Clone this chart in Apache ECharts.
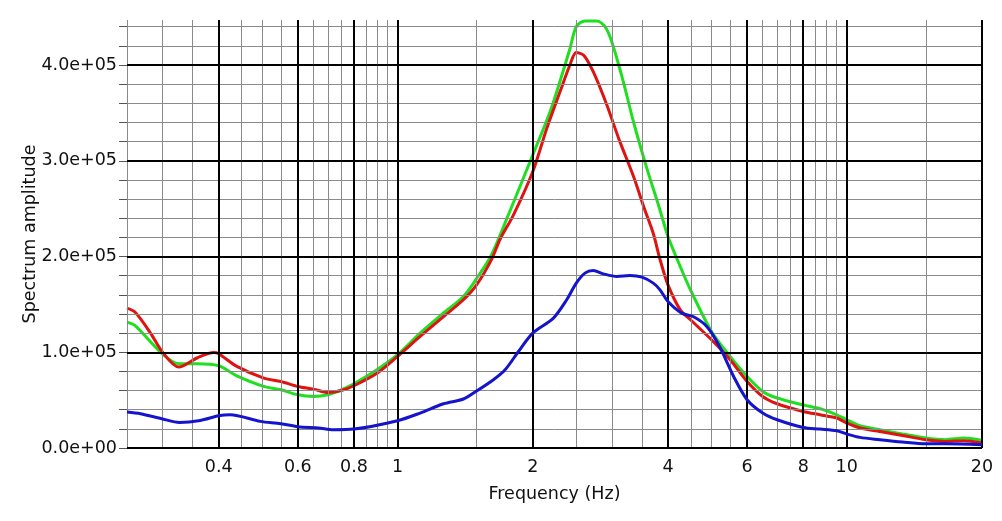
<!DOCTYPE html>
<html>
<head>
<meta charset="utf-8">
<script src="https://cdn.jsdelivr.net/npm/echarts@6/dist/echarts.min.js"></script>
<style>
html,body{margin:0;padding:0;background:#fff;}
#chart{width:1002px;height:521px;}
</style>
</head>
<body>
<div id="chart"></div>
<script>
// ---- data (frequency in Hz, amplitude) ----
const freqGreen = [0.25,0.261,0.30,0.326,0.358,0.40,0.439,0.504,0.55,0.60,0.65,0.70,0.75,0.80,0.90,1.0,1.123,1.266,1.402,1.5,1.62,1.765,2.0,2.185,2.3,2.42,2.5,2.614,2.775,2.897,3.0,3.18,3.35,3.59,3.82,4.0,4.26,4.49,5.0,5.5,6.0,6.5,7.0,8.0,8.73,9.5,10.0,10.7,11.85,13.3,15.0,16.6,18.2,20];
const ampGreen = [131500,127600,98000,88000,88000,85900,75400,64300,60800,55600,53800,55600,60800,67100,81700,97400,120000,141000,158200,177000,202000,243400,306000,351000,383000,417000,440000,446000,446000,440000,424000,383000,341000,292000,252000,221000,189500,165000,121700,95600,74700,59100,52200,45000,41000,34700,29500,23300,19100,14600,10400,8700,10400,7900];

const freqRed = [0.25,0.261,0.282,0.30,0.326,0.358,0.39,0.40,0.439,0.504,0.55,0.60,0.65,0.70,0.75,0.80,0.90,1.0,1.123,1.266,1.402,1.5,1.62,1.692,1.81,2.0,2.15,2.3,2.42,2.5,2.6,2.727,2.92,3.12,3.35,3.55,3.71,3.84,4.0,4.26,4.49,5.0,5.5,6.0,6.5,7.0,8.0,8.72,9.5,10.0,10.7,11.85,13.3,15.0,16.6,18.2,20];
const ampRed = [146000,141500,120000,100000,84500,94000,99800,98500,85200,73000,69500,64300,61500,58000,60000,65000,78000,95600,116500,137300,154800,170400,197000,218000,243000,288600,334000,372000,400000,413000,410000,393000,359000,321000,284000,249000,224000,197000,170400,144300,133900,113000,92100,69500,53800,46200,38200,34700,31300,26100,20900,17300,13100,8700,6900,7600,5200];

const freqBlue = [0.25,0.268,0.30,0.327,0.364,0.40,0.424,0.495,0.55,0.60,0.667,0.72,0.80,1.0,1.123,1.266,1.402,1.5,1.635,1.736,1.859,2.0,2.224,2.38,2.5,2.614,2.727,2.871,3.08,3.29,3.5,3.71,3.84,4.0,4.29,4.55,4.88,5.21,5.6,6.0,6.5,7.0,8.0,8.72,9.5,10.0,10.7,11.85,13.3,15.0,16.6,20];
const ampBlue = [37600,35800,30300,26700,28800,33700,34700,27800,25400,22200,20900,19100,19800,28500,36500,46200,51200,59500,71300,81700,100800,120000,135700,154800,172200,182600,185300,181900,179100,180100,178400,172200,165200,153000,140900,137300,126900,106000,74700,50400,36500,29500,21500,19800,18000,14600,11100,8700,6300,4500,4500,3400];

// ---- axes / ticks ----
const xTickValues = [0.4,0.6,0.8,1,2,4,6,8,10,20];
const xTickLabels = ['0.4','0.6','0.8','1','2','4','6','8','10','20'];
const xMinorValues = [0.25,0.3,0.35,0.45,0.5,0.55,0.65,0.7,0.75,0.85,0.9,0.95,1.5,2.5,3,3.5,4.5,5,5.5,6.5,7,7.5,8.5,9,9.5,15];
const yTickValues = [0,100000,200000,300000,400000];
const yTickLabels = ['0.0e+00','1.0e+05','2.0e+05','3.0e+05','4.0e+05'];
const yMinorValues = [20000,40000,60000,80000,120000,140000,160000,180000,220000,240000,260000,280000,320000,340000,360000,380000,420000,440000];

const FONT = 'DejaVu Sans';
const FS = 17.5;
const zip = (a, b) => a.map((v, i) => [v, b[i]]);

const minorData = xMinorValues.map(v => ({xAxis: v}))
  .concat(yMinorValues.map(v => ({yAxis: v})));
const majorData = xTickValues.map((v, i) => ({
    xAxis: v,
    label: {show: true, position: 'start', formatter: xTickLabels[i]}
  }))
  .concat(yTickValues.map(v => ({yAxis: v, label: {show: false}})));

const chart = echarts.init(document.getElementById('chart'), null, {renderer: 'canvas'});
chart.setOption({
  animation: false,
  backgroundColor: '#fff',
  grid: {left: 127, right: 20, top: 20, bottom: 73, containLabel: false},
  xAxis: {
    type: 'log', logBase: 10, min: 0.25, max: 20,
    name: 'Frequency (Hz)', nameLocation: 'middle', nameGap: 37,
    nameMoveOverlap: false,
    nameTextStyle: {fontFamily: FONT, fontSize: FS, color: '#111'},
    axisLine: {show: false}, axisTick: {show: false},
    axisLabel: {show: false}, splitLine: {show: false}
  },
  yAxis: {
    type: 'value', min: 0, max: 447000, interval: 20000,
    name: 'Spectrum amplitude', nameLocation: 'middle', nameGap: 88,
    nameMoveOverlap: false,
    nameTextStyle: {fontFamily: FONT, fontSize: FS, color: '#111'},
    axisLine: {show: false},
    axisTick: {show: true, length: 8, lineStyle: {color: '#555', width: 1},
               customValues: yTickValues.concat(yMinorValues)},
    axisLabel: {
      show: true, margin: 10, customValues: yTickValues,
      fontFamily: FONT, fontSize: FS, color: '#111',
      formatter: v => {
        const i = yTickValues.indexOf(v);
        return i >= 0 ? yTickLabels[i] : '';
      }
    },
    splitLine: {show: false}
  },
  series: [
    {
      name: 'gridMinor', type: 'line', data: [], z: 1, silent: true,
      markLine: {
        silent: true, symbol: ['none', 'none'], animation: false,
        lineStyle: {color: '#8a8a8a', width: 1, type: 'solid'},
        label: {show: false},
        emphasis: {disabled: true},
        data: minorData
      }
    },
    {
      name: 'gridMajor', type: 'line', data: [], z: 2, silent: true,
      markLine: {
        silent: true, symbol: ['none', 'none'], animation: false,
        lineStyle: {color: '#000', width: 2, type: 'solid'},
        label: {fontFamily: FONT, fontSize: FS, color: '#111', distance: 10},
        emphasis: {disabled: true},
        data: majorData
      }
    },
    {
      name: 'green', type: 'line', data: zip(freqGreen, ampGreen), z: 3,
      showSymbol: false, smooth: 0.3,
      lineStyle: {color: '#1fe01f', width: 3}, itemStyle: {color: '#1fe01f'}
    },
    {
      name: 'red', type: 'line', data: zip(freqRed, ampRed), z: 4,
      showSymbol: false, smooth: 0.3,
      lineStyle: {color: '#e01212', width: 3}, itemStyle: {color: '#e01212'}
    },
    {
      name: 'blue', type: 'line', data: zip(freqBlue, ampBlue), z: 5,
      showSymbol: false, smooth: 0.3,
      lineStyle: {color: '#1414cc', width: 3}, itemStyle: {color: '#1414cc'}
    }
  ]
});
</script>
</body>
</html>
